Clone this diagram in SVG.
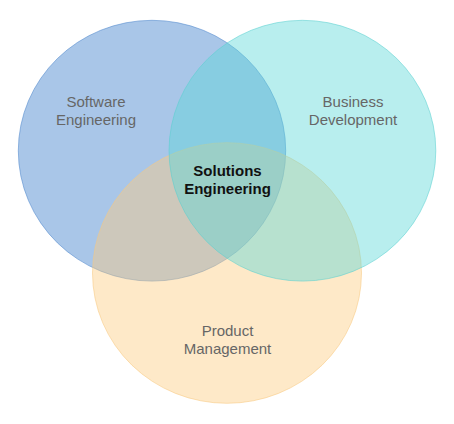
<svg xmlns="http://www.w3.org/2000/svg" width="454" height="424" viewBox="0 0 454 424">
<style>
.c{stroke-width:1;fill-opacity:0.43;stroke-opacity:0.55}
.lbl{font-family:"Liberation Sans",Arial,sans-serif;font-size:15px;fill:#666666;text-anchor:middle}
.ctr{font-family:"Liberation Sans",Arial,sans-serif;font-size:15px;font-weight:bold;fill:#111111;text-anchor:middle}
</style>
<rect width="454" height="424" fill="#ffffff"/>
<g id="software">
<ellipse class="c" cx="152" cy="150.7" rx="133.7" ry="130.4" fill="#377aca" stroke="#4f86cc"/>
</g>
<g id="product">
<ellipse class="c" cx="227" cy="273" rx="134.5" ry="130.3" fill="#fdcc80" stroke="#f8c880"/>
</g>
<g id="business">
<ellipse class="c" cx="302.4" cy="150.7" rx="133.4" ry="130.4" fill="#5ad8d8" stroke="#5ad0d0"/>
</g>
<g id="labels">
<text class="lbl" x="96" y="107">Software</text>
<text class="lbl" x="96" y="125">Engineering</text>
<text class="lbl" x="353" y="107">Business</text>
<text class="lbl" x="353" y="125">Development</text>
<text class="lbl" x="227.5" y="335.5">Product</text>
<text class="lbl" x="227.5" y="353.5">Management</text>
</g>
<g id="solutions">
<text class="ctr" x="227.5" y="176">Solutions</text>
<text class="ctr" x="227.5" y="194">Engineering</text>
</g>
<g id="connectors"></g>
</svg>
